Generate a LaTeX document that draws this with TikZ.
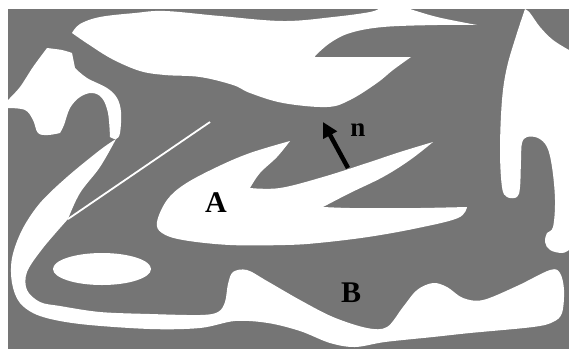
\documentclass[tikz,border=0pt]{standalone}
\usepackage{fontspec}
\setmainfont{Liberation Serif}
\usetikzlibrary{arrows.meta}
\definecolor{bggray}{gray}{0.46}
\tikzset{
  blob/.style={fill=white},
  lbl/.style={font=\bfseries\fontsize{30}{30}\selectfont, inner sep=0pt, text=black},
  nlbl/.style={font=\bfseries\fontsize{27}{27}\selectfont, inner sep=0pt, text=black},
  normalarrow/.style={line width=4.5pt, -{Triangle[length=15pt,width=15pt]}}
}
\begin{document}
\begin{tikzpicture}[x=1pt,y=-1pt]
\useasboundingbox (0,0) rectangle (569,349);
% background
\fill[bggray] (8,9) rectangle (569,349);

% top blob
\fill[blob] plot[smooth,tension=0.6] coordinates {(72,33) (80,24) (100,17) (135,13) (165,11) (220,16) (283,21) (333,17) (370,12) (380,8)}
  -- (407,8)
  -- plot[smooth,tension=0.6] coordinates {(407,8) (437,17) (477,25)}
  -- plot[smooth,tension=0.6] coordinates {(477,25) (437,25) (383,27) (350,33) (330,43) (315,56)}
  -- plot[smooth,tension=0.6] coordinates {(315,57) (350,57) (411,57)}
  -- plot[smooth,tension=0.6] coordinates {(411,57) (393,70) (377,83) (350,100) (327,107) (283,103) (250,93) (233,85) (200,77) (165,75) (140,71) (112,59) (88,44) (72,33)} -- cycle;

% left cap
\fill[blob] (8,100) -- plot[smooth,tension=0.5] coordinates {(8,100) (20,87) (33,67) (47,48)}
  -- plot[smooth,tension=0.5] coordinates {(47,48) (62,50) (72,53)}
  -- (75,68)
  -- plot[smooth,tension=0.6] coordinates {(75,68) (87,78) (107,88) (117,98) (121,112) (120,133) (116,139) (110,137)}
  -- plot[smooth,tension=0.6] coordinates {(110,137) (108,113) (102,98) (92,93) (80,97) (70,108) (64,125) (60,133)}
  -- plot[smooth,tension=0.6] coordinates {(60,133) (48,135) (38,133) (33,120) (25,110) (8,108)} -- cycle;

% swoosh and bottom band
\fill[blob] plot[smooth,tension=0.55] coordinates {(116,139) (100,150) (67,177) (40,203) (22,230) (12,258) (12,283) (20,303) (40,316) (80,324) (150,329) (200,328) (235,321) (268,323) (300,331) (330,343) (355,347) (385,342) (433,337) (470,333) (533,327) (553,322) (562,313) (564,290) (560,273) (550,270) (517,286) (483,300) (463,298) (447,287) (433,283) (417,290) (403,307) (387,327) (367,328) (333,317) (300,300) (267,281) (247,270) (233,272) (228,284) (225,302) (218,312) (200,315) (150,314) (100,312) (60,306) (40,302) (27,290) (27,272) (43,248) (68,219)}
  -- plot[smooth,tension=0.6] coordinates {(68,219) (80,193) (100,167) (116,139)} -- cycle;
% thin white stroke
\coordinate (thinA) at (68,219);
\coordinate (thinB) at (210,122);
\draw[white, line width=1.8pt] (thinA) -- (thinB);

% ellipse
\fill[blob] (102,269) ellipse [x radius=49pt, y radius=16pt];

% shape A
\fill[blob] plot[smooth,tension=0.6] coordinates {(290,141) (250,153) (217,167) (185,184) (167,200) (157,222) (162,233) (183,240) (230,245) (285,245) (318,243) (368,237) (418,228) (458,218) (467,207)}
  -- plot[smooth,tension=0.6] coordinates {(467,207) (420,208) (385,208) (350,208) (323,207)}
  -- plot[smooth,tension=0.6] coordinates {(323,207) (350,193) (383,177) (410,160) (433,142)}
  -- plot[smooth,tension=0.6] coordinates {(433,142) (400,152) (367,163) (323,177) (280,188) (250,188)}
  -- plot[smooth,tension=0.6] coordinates {(250,188) (260,173) (277,157) (290,141)} -- cycle;

% right shape
\fill[blob] plot[smooth,tension=0.6] coordinates {(525,9) (517,33) (507,67) (502,100) (500,150) (502,187) (507,197) (517,197) (520,187) (521,160) (522,143) (527,137) (538,138) (547,147) (552,167) (555,200) (553,227) (547,233) (545,242) (550,250) (562,253) (569,250)}
  -- (569,50)
  -- plot[smooth,tension=0.6] coordinates {(569,50) (553,40) (540,27) (530,13) (525,9)} -- cycle;

% labels
\node[lbl] (labA) at (216,203) {A};
\node[lbl] (labB) at (351,293) {B};
\node[nlbl] (labn) at (358,130) {n};
% normal arrow
\coordinate (ntail) at (348,168);
\coordinate (nhead) at (323,122);
\draw[normalarrow] (ntail) -- (nhead);
\end{tikzpicture}
\end{document}
